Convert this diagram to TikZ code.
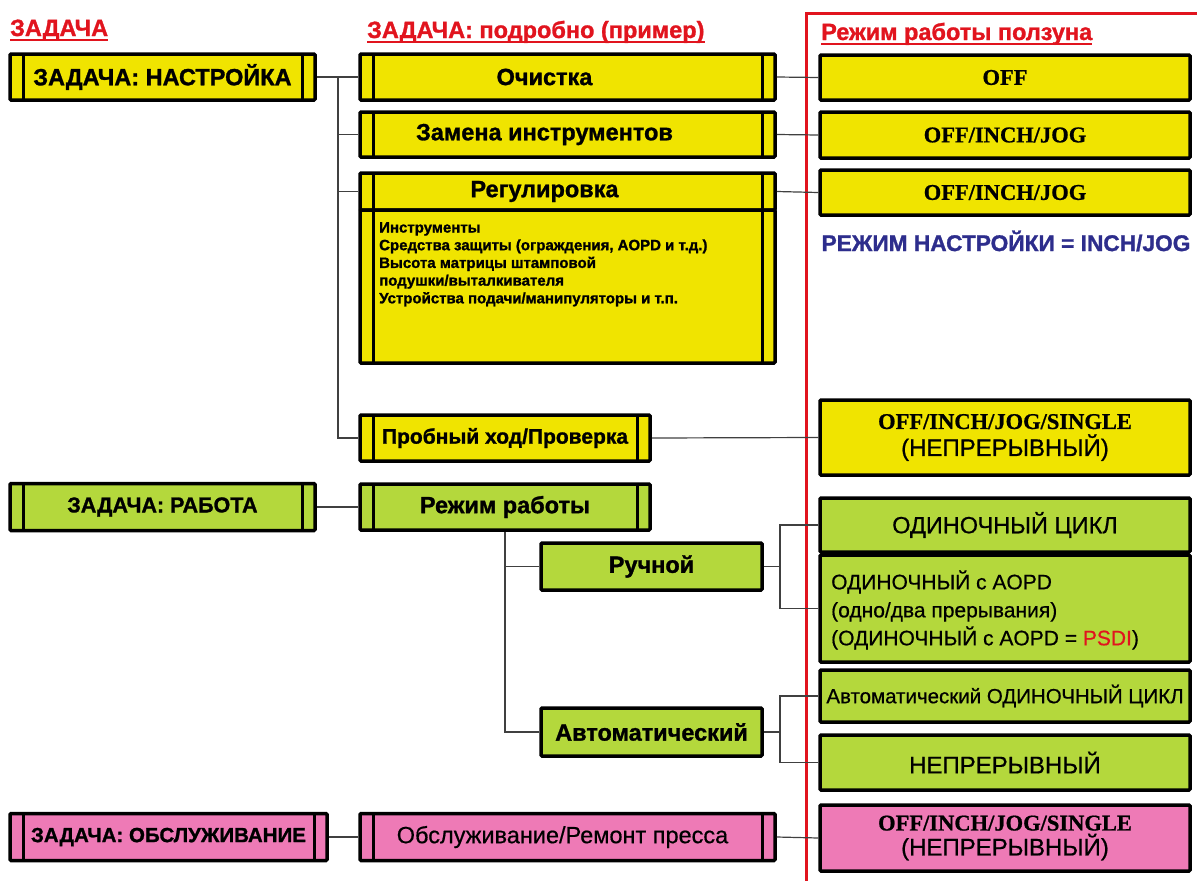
\documentclass[tikz,border=0pt]{standalone}
\usepackage{fontspec}
\setmainfont{Liberation Sans}
\newfontfamily\serifb[FakeBold=0.8]{Liberation Serif Bold}
\newfontfamily\hv[FakeBold=1.2]{Liberation Sans Bold}
\newfontfamily\md[FakeBold=0.6]{Liberation Sans}
\definecolor{ylw}{RGB}{240,228,0}
\definecolor{grn}{RGB}{180,216,60}
\definecolor{pnk}{RGB}{238,122,182}
\definecolor{navy}{RGB}{45,45,140}
\definecolor{redc}{RGB}{225,20,30}
\tikzset{
  box/.style={draw=black, line width=3.5pt, rounded corners=1pt, inner sep=0pt, align=center,
    font=\hv\fontsize{23.5}{26}\selectfont},
  ybox/.style={box, fill=ylw},
  gbox/.style={box, fill=grn},
  pbox/.style={box, fill=pnk},
  bars/.style={path picture={
    \draw[line width=3pt] ([xshift=13pt]path picture bounding box.north west) -- ([xshift=13pt]path picture bounding box.south west);
    \draw[line width=3pt] ([xshift=-13pt]path picture bounding box.north east) -- ([xshift=-13pt]path picture bounding box.south east);}},
  rbox/.style={minimum width=370pt},
  sertext/.style={font=\serifb\fontsize{22.5}{24}\selectfont},
  lnk/.style={draw=black!75, line width=1.2pt},
  head/.style={anchor=base west, inner sep=0pt, text=redc, font=\hv\fontsize{23.5}{26}\selectfont},
  uline/.style={draw=redc, line width=2pt},
}
\begin{document}
\begin{tikzpicture}[x=1pt,y=-1pt]
\useasboundingbox (0,0) rectangle (1197,881);
% red frame
\draw[redc, line width=3pt] (806,890) -- (806,13) -- (1205,13);
% headings
\node[head] (h1) at (10,36) {ЗАДАЧА};
\node[head] (h2) at (367,38) {ЗАДАЧА: подробно (пример)};
\node[head] (h3) at (821,40) {Режим работы ползуна};
\draw[uline] ([yshift=-3.5pt]h1.base west) -- ([yshift=-3.5pt]h1.base east);
\draw[uline] ([yshift=-3.5pt]h2.base west) -- ([yshift=-3.5pt]h2.base east);
\draw[uline] ([yshift=-3.5pt]h3.base west) -- ([yshift=-3.5pt]h3.base east);
% left column
\node[ybox,bars,minimum width=305pt,minimum height=46pt] (tset) at (162.5,77) {ЗАДАЧА: НАСТРОЙКА};
\node[gbox,bars,minimum width=305pt,minimum height=47pt,font=\hv\fontsize{21.5}{24}\selectfont] (twork) at (162.5,507) {ЗАДАЧА: РАБОТА};
\node[pbox,bars,minimum width=317pt,minimum height=47pt,font=\hv\fontsize{20.5}{22}\selectfont] (tserv) at (168.5,837) {ЗАДАЧА: ОБСЛУЖИВАНИЕ};
% middle column
\node[ybox,bars,minimum width=415pt,minimum height=46pt] (clean) at (567.5,77) {Очистка\hspace*{46pt}};
\node[ybox,bars,minimum width=415pt,minimum height=45pt] (change) at (567.5,134.5) {Замена инструментов\hspace*{46pt}};
\node[ybox,bars,minimum width=415pt,minimum height=37pt] (adjT) at (567.5,191.5) {Регулировка\hspace*{46pt}};
\node[ybox,bars,minimum width=415pt,minimum height=153pt] (adjD) at (567.5,286.5) {};
\node[anchor=north west, align=left, inner sep=0pt, font=\hv\fontsize{15}{17.7}\selectfont] (adjtxt) at (379,222)
  {Инструменты\\Средства защиты (ограждения, AOPD и т.д.)\\Высота матрицы штамповой\\подушки/выталкивателя\\Устройства подачи/манипуляторы и т.п.};
\node[ybox,bars,minimum width=290pt,minimum height=46pt,font=\hv\fontsize{21}{22}\selectfont] (trial) at (505,438) {Пробный ход/Проверка};
\node[gbox,bars,minimum width=290pt,minimum height=46pt] (mode) at (505,507) {Режим работы};
\node[gbox,minimum width=221pt,minimum height=47pt] (manual) at (651.5,566.5) {Ручной};
\node[gbox,minimum width=221pt,minimum height=48pt] (auto) at (651.5,732) {Автоматический};
\node[pbox,bars,minimum width=415pt,minimum height=47pt,font=\md\fontsize{23.5}{26}\selectfont] (repair) at (567.5,837) {Обслуживание/Ремонт пресса\hspace*{10pt}};
% right column
\node[ybox,rbox,minimum height=45pt,sertext] (r1) at (1005,77.5) {OFF};
\node[ybox,rbox,minimum height=46pt,sertext] (r2) at (1005,135) {OFF/INCH/JOG};
\node[ybox,rbox,minimum height=45pt,sertext] (r3) at (1005,192.5) {OFF/INCH/JOG};
\node[text=navy, font=\hv\fontsize{22.7}{24}\selectfont, inner sep=0pt] (note) at (1006,241) {РЕЖИМ НАСТРОЙКИ = INCH/JOG};
\node[ybox,rbox,minimum height=75pt] (r4) at (1005,437.5) {{\serifb\fontsize{22.5}{26}\selectfont OFF/INCH/JOG/SINGLE}\\[1pt]{\md\fontsize{24}{26}\selectfont (НЕПРЕРЫВНЫЙ)}};
\node[gbox,rbox,minimum height=54pt,font=\md\fontsize{23.5}{26}\selectfont] (r5) at (1005,525) {ОДИНОЧНЫЙ ЦИКЛ};
\node[gbox,rbox,minimum height=107pt] (r6) at (1005,608.5) {};
\node[anchor=west, align=left, inner sep=0pt, font=\md\fontsize{21}{28}\selectfont] (r6txt) at (831,610)
  {ОДИНОЧНЫЙ с AOPD\\(одно/два прерывания)\\(ОДИНОЧНЫЙ с AOPD = \textcolor{redc}{PSDI})};
\node[gbox,rbox,minimum height=52pt,font=\md\fontsize{20.5}{22}\selectfont] (r7) at (1005,696) {Автоматический ОДИНОЧНЫЙ ЦИКЛ};
\node[gbox,rbox,minimum height=55pt,font=\md\fontsize{24}{26}\selectfont] (r8) at (1005,762.5) {НЕПРЕРЫВНЫЙ};
\node[pbox,rbox,minimum height=66pt] (r9) at (1005,838) {{\serifb\fontsize{22.5}{26}\selectfont OFF/INCH/JOG/SINGLE}\\[-1pt]{\md\fontsize{24}{26}\selectfont (НЕПРЕРЫВНЫЙ)}};
% connectors
\coordinate (sp1) at (338,77);
\coordinate (sp2) at (780,566.5);
\coordinate (sp3) at (780,732);
\draw[lnk] (tset.east) -- (clean.west);
\draw[lnk] (sp1) |- (change.west);
\draw[lnk] (sp1) |- (adjT.west);
\draw[lnk] (sp1) |- (trial.west);
\draw[lnk] (clean.east) -- (r1.west);
\draw[lnk] (change.east) -- (r2.west);
\draw[lnk] (adjT.east) -- (r3.west);
\draw[lnk] (trial.east) -- (r4.west);
\draw[lnk] (twork.east) -- (mode.west);
\draw[lnk] (mode.south) |- (manual.west);
\draw[lnk] (mode.south) |- (auto.west);
\draw[lnk] (manual.east) -- (sp2);
\draw[lnk] (sp2) |- (r5.west);
\draw[lnk] (sp2) |- (r6.west);
\draw[lnk] (auto.east) -- (sp3);
\draw[lnk] (sp3) |- (r7.west);
\draw[lnk] (sp3) |- (r8.west);
\draw[lnk] (tserv.east) -- (repair.west);
\draw[lnk] (repair.east) -- (r9.west);
\end{tikzpicture}
\end{document}
